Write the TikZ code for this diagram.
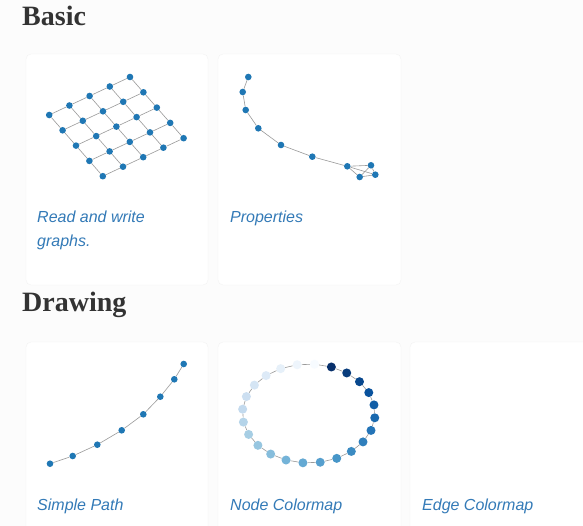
\documentclass[tikz,border=0pt]{standalone}
\usepackage{fontspec}
\setmainfont{Liberation Serif}
\newfontfamily\capfont{Liberation Sans}
\usepackage{tikz}
\definecolor{pagebg}{HTML}{FCFCFC}
\definecolor{cardline}{HTML}{F3F3F3}
\definecolor{headgray}{HTML}{333333}
\definecolor{linkblue}{HTML}{337AB7}
\definecolor{nodeblue}{HTML}{1F77B4}
\definecolor{edgegray}{HTML}{9A9A9A}

\tikzset{
  card/.style={fill=white,draw=cardline,rounded corners=5pt},
  head/.style={anchor=base west,inner sep=0,text=headgray,font=\fontsize{28}{34}\selectfont\bfseries},
  caption/.style={anchor=base west,inner sep=0,text=linkblue,align=left,font=\capfont\itshape\fontsize{16}{24}\selectfont},
  dot/.style={circle,fill=nodeblue,inner sep=0,minimum size=6.6pt},
  bigdot/.style={circle,inner sep=0,minimum size=9pt},
  link/.style={draw=edgegray,line width=0.6pt}
}

\begin{document}
\begin{tikzpicture}[x=1pt,y=-1pt]
\fill[pagebg] (0,0) rectangle (583,526);
\clip (0,0) rectangle (583,526);
% cards
\draw[card] (26,54) rectangle (208,285);
\draw[card] (218,54) rectangle (401,285);
\draw[card] (26,342) rectangle (208,545);
\draw[card] (218,342) rectangle (401,545);
\draw[card] (410,342) rectangle (600,545);
% section titles
\node[head] (basic) at (22,26) {Basic};
\node[head] (drawing) at (22,312) {Drawing};
% grid graph
\foreach \r in {0,...,4}
  \foreach \c in {0,...,4}
    \node[dot] (g\r\c) at ({130-20.2*\c+13.4*\r},{77+9.5*\c+15.3*\r}) {};
\foreach \r in {0,...,4}
  \foreach \c [count=\n from 1] in {0,...,3}
    \draw[link] (g\r\c)--(g\r\n);
\foreach \r [count=\n from 1] in {0,...,3}
  \foreach \c in {0,...,4}
    \draw[link] (g\r\c)--(g\n\c);
% lollipop
\foreach \p [count=\i] in {(248.3,77),(242.7,92),(245.7,110),(258.3,128.3),(281,145),(312.3,156.7),(347.3,166.3),(371,165.3),(375.3,174.7),(359.7,177)}
  \node[dot] (l\i) at \p {};
\foreach \i [count=\j from 2] in {1,...,6} \draw[link] (l\i)--(l\j);
\foreach \a/\b in {7/8,7/9,7/10,8/9,8/10,9/10} \draw[link] (l\a)--(l\b);
% path
\foreach \p [count=\i] in {(50,463.7),(72.7,456),(97.3,444.7),(121.7,430.3),(143.3,414.3),(160.3,396.7),(174.3,379.3),(183.7,364)}
  \node[dot] (p\i) at \p {};
\foreach \i [count=\j from 2] in {1,...,7} \draw[link] (p\i)--(p\j);
% cycle, Blues
\foreach \rgb [count=\i from 0] in {{247,251,255},{238,245,252},{230,240,249},{221,234,247},{213,229,244},{204,223,241},{195,218,238},{181,212,233},{167,206,228},{151,198,224},{134,189,220},{116,179,216},{100,169,211},{86,159,206},{71,150,200},{59,139,194},{47,127,188},{36,116,183},{26,105,174},{18,94,166},{9,82,157},{8,71,141},{8,60,124},{8,48,107}}{
  \definecolor{shade}{RGB}{\rgb}
  \node[bigdot,fill=shade] (c\i) at ({308.7+66.3*cos(85+15*\i)},{413.5-49.5*sin(85+15*\i)}) {};
}
\foreach \i in {0,...,23}{
  \pgfmathtruncatemacro\j{mod(\i+1,24)}
  \draw[link] (c\i)--(c\j);
}
% captions
\node[caption] (cap1) at (37,247) {Read and write\\graphs.};
\node[caption] (cap2) at (230,223) {Properties};
\node[caption] (cap3) at (37,510) {Simple Path};
\node[caption] (cap4) at (230,510) {Node Colormap};
\node[caption] (cap5) at (422,510) {Edge Colormap};
\end{tikzpicture}
\end{document}
